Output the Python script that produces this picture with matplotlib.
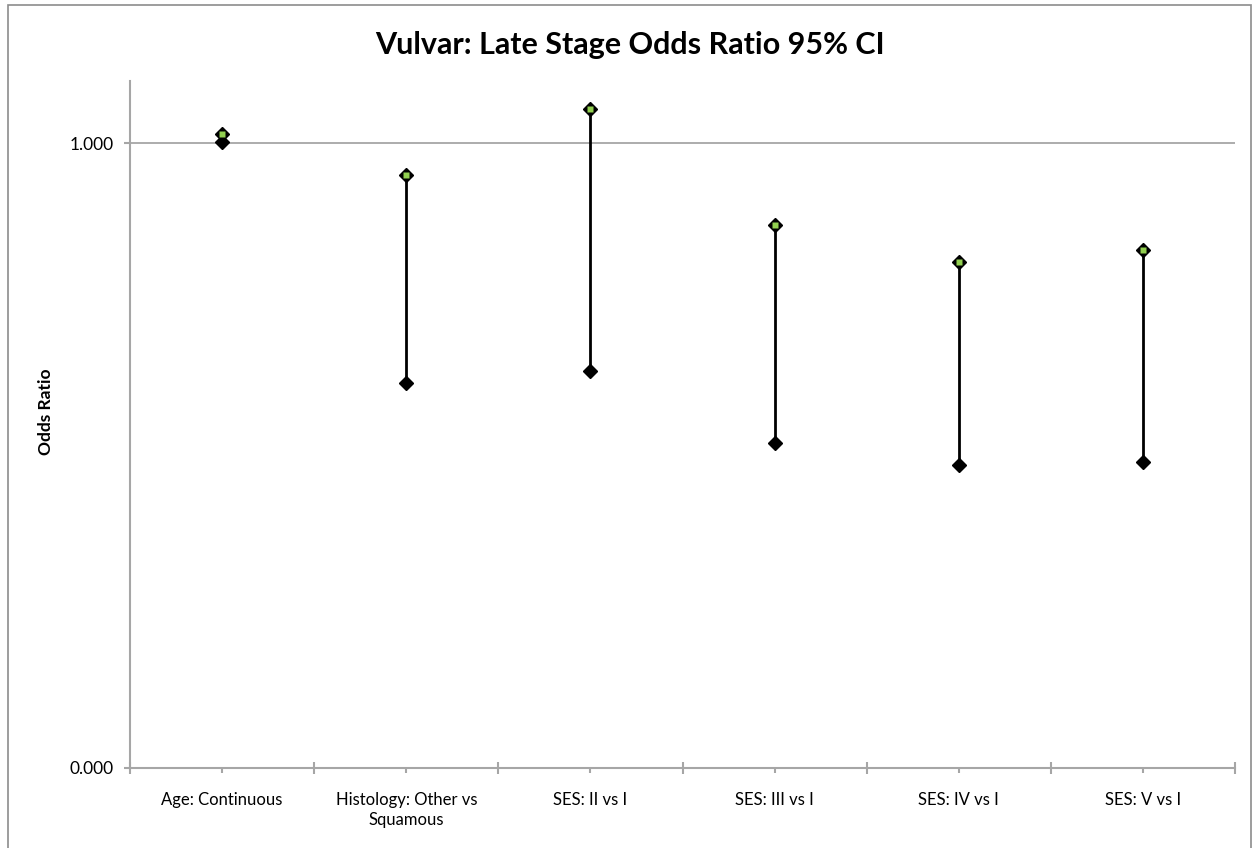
import matplotlib
matplotlib.use("Agg")
import matplotlib.pyplot as plt
from matplotlib.patches import Rectangle
from matplotlib.ticker import FixedLocator, NullFormatter, FixedFormatter
import numpy as np

categories = ["Age: Continuous", "Histology: Other vs\nSquamous", "SES: II vs I",
              "SES: III vs I", "SES: IV vs I", "SES: V vs I"]
ci_high = [1.015, 0.950, 1.055, 0.870, 0.810, 0.830]
ci_low = [1.003, 0.616, 0.635, 0.520, 0.485, 0.490]

plt.rcParams["font.family"] = ["Lato", "DejaVu Sans"]
axis_grey = "#a6a6a6"

W, H = 1253, 848
fig = plt.figure(figsize=(W / 100, H / 100), dpi=100)

# chart frame
fig.patches.append(Rectangle((8 / W, -0.02), (1251 - 8) / W, 1.02 - 5 / H,
                             transform=fig.transFigure, fill=False,
                             edgecolor="#8c8c8c", linewidth=1.2))

ax = fig.add_axes([130 / W, (H - 768) / H, (1235 - 130) / W, (768 - 81) / H])
x = np.arange(len(categories)) + 0.5

ax.axhline(1.0, color=axis_grey, lw=1.3, zorder=1)
ax.vlines(x, ci_low, ci_high, color="black", lw=2, zorder=2)
ax.plot(x, ci_low, "D", color="black", ms=7, zorder=3)
ax.plot(x, ci_high, "D", color="black", ms=7, zorder=3)
ax.plot(x, ci_high, "s", color="#92d050", ms=4, mec="none", zorder=4)

ax.set_xlim(0, len(categories))
ax.set_ylim(0, 1.1)

for s in ["top", "right"]:
    ax.spines[s].set_visible(False)
for s in ["left", "bottom"]:
    ax.spines[s].set_color(axis_grey)
    ax.spines[s].set_linewidth(1.5)

ax.xaxis.set_major_locator(FixedLocator(np.arange(len(categories) + 1)))
ax.xaxis.set_major_formatter(NullFormatter())
ax.xaxis.set_minor_locator(FixedLocator(x))
ax.xaxis.set_minor_formatter(FixedFormatter(categories))
ax.tick_params(axis="x", which="major", direction="inout", length=9,
               width=1.5, color=axis_grey)
ax.tick_params(axis="x", which="minor", direction="out", length=3.6,
               width=1.5, color=axis_grey, labelsize=12, pad=14)
for lbl in ax.xaxis.get_minorticklabels():
    lbl.set_linespacing(1.3)
    lbl.set_verticalalignment("top")

ax.set_yticks([0, 1])
ax.set_yticklabels(["0.000", "1.000"])
ax.tick_params(axis="y", direction="out", length=4, width=1.5,
               color=axis_grey, labelsize=12.5, pad=8)

fig.text(46 / W, 1 - 412 / H, "Odds Ratio", rotation=90, ha="center",
         va="center", fontsize=12.5, fontweight="bold")
fig.text(630 / W, 1 - 45 / H, "Vulvar: Late Stage Odds Ratio 95% CI",
         ha="center", va="center", fontsize=22, fontweight="bold")

fig.savefig("out.png", dpi=100, facecolor="white")
